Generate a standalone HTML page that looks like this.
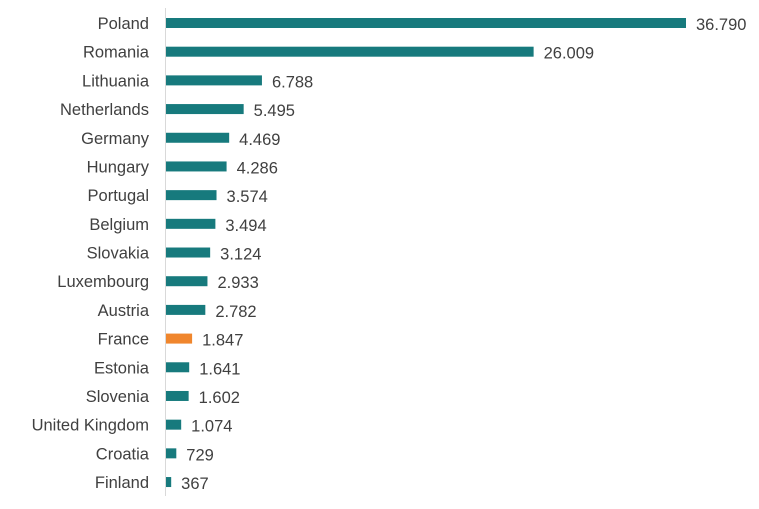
<!DOCTYPE html><html><head><style>body{margin:0;background:#fff}text{font-family:"Liberation Sans",sans-serif;font-size:16.5px;fill:#404040}</style></head><body>
<svg width="759" height="504" xmlns="http://www.w3.org/2000/svg">
<line x1="165.5" y1="8" x2="165.5" y2="496" stroke="#d9d9d9" stroke-width="1"/>
<g id="g"></g>
</svg>
<script>
var d=[["Poland",36790,"36.790"],["Romania",26009,"26.009"],["Lithuania",6788,"6.788"],["Netherlands",5495,"5.495"],["Germany",4469,"4.469"],["Hungary",4286,"4.286"],["Portugal",3574,"3.574"],["Belgium",3494,"3.494"],["Slovakia",3124,"3.124"],["Luxembourg",2933,"2.933"],["Austria",2782,"2.782"],["France",1847,"1.847"],["Estonia",1641,"1.641"],["Slovenia",1602,"1.602"],["United Kingdom",1074,"1.074"],["Croatia",729,"729"],["Finland",367,"367"]];
var s="";d.forEach(function(r,i){var y=23+i*28.69,w=r[1]*520/36790;
s+='<text x="149" y="'+(y+6)+'" text-anchor="end">'+r[0]+'</text>';
s+='<rect x="166" y="'+(y-5)+'" width="'+w+'" height="10" fill="'+(r[0]=="France"?"#f0862d":"#177a7d")+'"/>';
s+='<text x="'+(166+w+10)+'" y="'+(y+7)+'">'+r[2]+'</text>';});
document.getElementById("g").innerHTML=s;
</script>
</body></html>
